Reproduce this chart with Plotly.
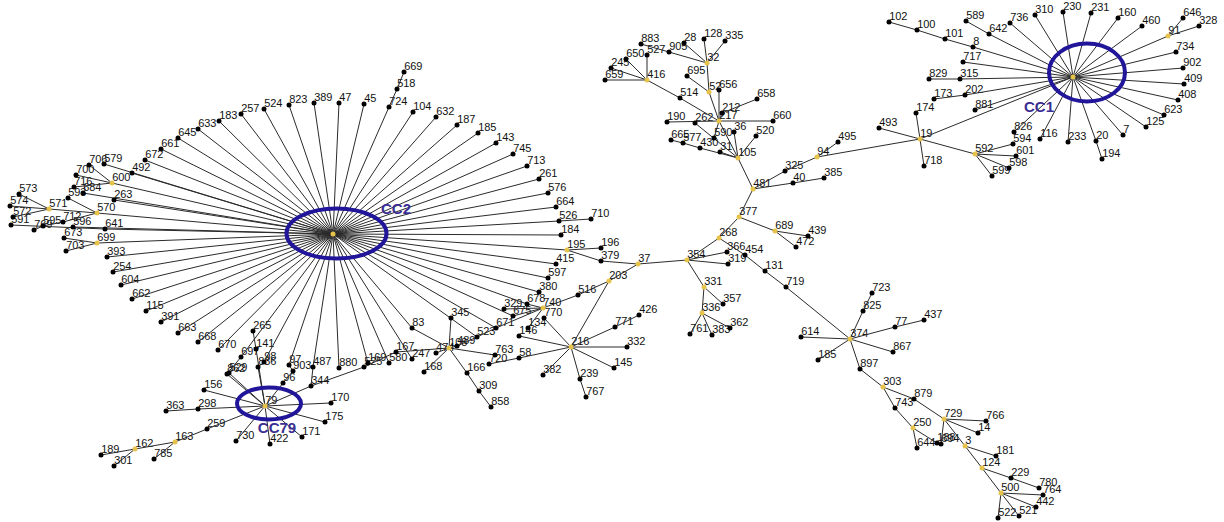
import plotly.graph_objects as go

# ---------------- node table (id, x, y in picture units) ----------------
node_ids = [
    # CC2 hub + left cluster
    "2", "706", "579", "700", "600", "716", "593", "684", "263", "573", "574", "571", "570", "572",
    "591", "769", "595", "712", "596", "641", "673", "699", "703", "393",
    "254", "604", "662", "115", "391", "663", "668", "670",
    "492", "672", "661", "645", "633", "183", "257", "524", "823", "389", "47", "45", "724", "518",
    "669", "104", "632", "187", "185", "143", "745", "713", "261", "576", "664", "526", "710", "184",
    "195", "196", "379", "415", "597", "380",
    # middle lower
    "740", "678", "329", "675", "671", "770", "134", "146", "516", "203", "37", "216", "426", "771",
    "332", "145", "239", "767", "382", "58", "720", "763", "166", "309", "858", "345", "83", "523",
    "108", "474", "489", "167", "247", "580", "168", "525", "169",
    # central tree
    "354", "366", "319", "268", "454", "131", "719", "377", "689", "439", "472", "481", "331", "357",
    "336", "362", "383", "761",
    # top middle
    "105", "325", "94", "495", "40", "385", "217", "52", "32", "695", "28", "128", "335", "905",
    "883", "527", "650", "245", "659", "416", "514", "656", "212", "658", "190", "660", "262", "590",
    "36", "520", "665", "577", "430", "31",
    # CC1
    "1", "102", "100", "101", "8", "589", "642", "736", "310", "230", "231", "160", "460", "646",
    "328", "91", "734", "902", "409", "408", "623", "125", "7", "194", "20", "233", "116", "826",
    "594", "601", "598", "599", "592", "19", "174", "718", "493", "717", "829", "315", "173", "202",
    "881",
    # CC79
    "79", "265", "141", "697", "98", "836", "97", "903", "96", "487", "880", "344", "862", "529",
    "156", "298", "363", "170", "175", "171", "422", "730", "259", "163", "785", "162", "189", "301",
    # lower right
    "374", "723", "825", "77", "437", "614", "185b", "867", "897", "303", "879", "743", "250", "644",
    "729", "766", "14", "188", "694", "3", "181", "124", "229", "780", "500", "764", "442", "521",
    "522",
]
node_x = [
    333, 89, 104, 76, 112, 74, 68, 83, 114, 19, 10, 49, 97, 13,
    11, 34, 43, 63, 73, 105, 64, 97, 66, 107,
    113, 121, 132, 146, 161, 178, 198, 218,
    132, 145, 161, 178, 198, 219, 241, 264, 289, 314, 339, 364, 389, 397,
    404, 413, 436, 457, 478, 496, 513, 527, 539, 548, 556, 559, 591, 561,
    567, 601, 601, 556, 548, 539,
    543, 527, 504, 513, 496, 544, 528, 519, 578, 609, 638, 571, 639, 615,
    627, 614, 580, 586, 543, 519, 489, 495, 467, 479, 491, 451, 412, 477,
    449, 436, 457, 396, 412, 389, 424, 364, 368,
    687, 727, 728, 719, 745, 765, 786, 739, 775, 808, 796, 753, 704, 723,
    702, 730, 712, 690,
    738, 785, 817, 838, 793, 824, 719, 709, 707, 687, 684, 704, 725, 669,
    641, 647, 626, 611, 605, 647, 680, 719, 722, 757, 667, 773, 695, 714,
    734, 756, 671, 683, 700, 720,
    1073, 889, 917, 945, 973, 966, 989, 1010, 1035, 1063, 1091, 1118, 1142, 1183,
    1199, 1168, 1176, 1183, 1184, 1178, 1164, 1146, 1123, 1102, 1096, 1068, 1040, 1014,
    1013, 1016, 1009, 992, 975, 920, 916, 924, 879, 963, 929, 960, 934, 965,
    975,
    265, 253, 256, 241, 264, 258, 289, 293, 283, 313, 339, 311, 227, 229,
    204, 198, 166, 331, 325, 302, 270, 236, 207, 175, 154, 135, 101, 114,
    850, 872, 863, 895, 924, 801, 818, 893, 860, 883, 914, 895, 913, 917,
    944, 986, 978, 937, 941, 965, 996, 982, 1011, 1039, 1001, 1043, 1036, 1019,
    998,
]
node_y = [
    234, 165, 164, 175, 183, 187, 198, 193, 200, 194, 206, 209, 213, 217,
    225, 230, 226, 222, 227, 229, 238, 243, 251, 257,
    272, 285, 299, 311, 322, 333, 342, 350,
    173, 160, 149, 138, 129, 121, 114, 109, 105, 103, 103, 104, 107, 89,
    72, 112, 117, 125, 133, 143, 154, 166, 179, 193, 207, 221, 219, 235,
    250, 248, 261, 264, 278, 292,
    308, 304, 309, 316, 328, 318, 328, 336, 295, 281, 264, 347, 315, 327,
    347, 368, 379, 397, 375, 358, 364, 355, 373, 391, 407, 318, 328, 337,
    348, 353, 346, 352, 359, 363, 372, 367, 363,
    260, 252, 264, 238, 255, 271, 287, 217, 231, 236, 247, 189, 287, 304,
    313, 328, 335, 334,
    158, 171, 157, 142, 183, 178, 121, 92, 63, 76, 43, 39, 41, 52,
    44, 55, 59, 68, 80, 80, 98, 90, 113, 99, 122, 121, 123, 138,
    132, 136, 140, 143, 148, 152,
    77, 22, 30, 39, 47, 21, 34, 23, 15, 12, 13, 18, 26, 18,
    26, 36, 52, 68, 84, 100, 115, 127, 135, 159, 141, 142, 139, 132,
    144, 156, 168, 176, 154, 139, 113, 166, 128, 62, 79, 79, 99, 95,
    110,
    406, 331, 349, 357, 362, 367, 365, 371, 383, 367, 368, 386, 374, 373,
    390, 409, 411, 403, 422, 437, 444, 441, 429, 442, 459, 449, 455, 466,
    339, 293, 311, 327, 320, 337, 360, 352, 369, 387, 399, 408, 428, 448,
    419, 421, 433, 443, 444, 446, 456, 468, 478, 488, 493, 495, 507, 516,
    518,
]
# labels shown next to each node (hub nodes of CC2 / CC1 carry none)
node_labels = [("" if n in ("2", "1") else n.replace("b", "")) for n in node_ids]

# nodes drawn yellow (group / sub-group founders)
founders = ["2", "1", "79", "600", "571", "570", "699", "195", "37", "203", "740", "108", "216",
            "354", "268", "377", "481", "689", "331", "336", "374", "303", "250", "729", "3",
            "124", "500", "105", "217", "52", "32", "416", "94", "19", "592", "91", "163", "162"]

# ---------------- edges ----------------
cc2_spokes = ["579", "600", "492", "672", "661", "645", "633", "183", "257", "524", "823", "389",
              "47", "45", "724", "104", "632", "187", "185", "143", "745", "713", "261", "576",
              "664", "526", "184", "195", "415", "597", "380", "678", "675", "671", "523", "83",
              "247", "580", "169", "880", "487", "97", "98", "697", "670", "668", "663", "391",
              "115", "662", "604", "254", "393", "699", "641", "596", "570", "263", "684"]
cc1_spokes = ["8", "642", "736", "310", "230", "231", "160", "460", "91", "734", "902", "409",
              "408", "623", "125", "7", "20", "233", "116", "826", "19", "717", "315", "202", "881"]
cc79_spokes = ["141", "862", "529", "836", "96", "156", "298", "259", "730", "422", "171", "175",
               "170", "344"]
other_edges = [
    ("724", "518"), ("518", "669"),
    ("600", "706"), ("600", "700"), ("600", "716"), ("571", "573"), ("571", "574"), ("571", "572"),
    ("571", "570"), ("570", "593"), ("570", "712"), ("712", "595"), ("595", "769"), ("591", "641"),
    ("699", "673"), ("699", "703"),
    ("740", "678"), ("740", "329"), ("740", "675"), ("740", "134"), ("740", "516"), ("740", "671"),
    ("516", "203"), ("203", "37"), ("203", "216"), ("37", "379"), ("379", "195"), ("195", "196"),
    ("526", "710"), ("37", "354"),
    ("216", "770"), ("216", "146"), ("216", "771"), ("771", "426"), ("216", "332"), ("216", "145"),
    ("216", "239"), ("239", "767"), ("216", "382"), ("216", "58"), ("58", "720"),
    ("108", "489"), ("489", "523"), ("523", "671"), ("108", "345"), ("108", "83"), ("108", "474"),
    ("108", "168"), ("108", "166"), ("166", "309"), ("309", "858"), ("108", "763"), ("108", "167"),
    ("167", "525"), ("525", "344"), ("344", "487"),
    ("354", "366"), ("354", "319"), ("354", "268"), ("354", "331"), ("331", "357"), ("331", "336"),
    ("336", "362"), ("336", "383"), ("336", "761"),
    ("268", "377"), ("268", "454"), ("454", "131"), ("131", "719"), ("719", "374"), ("377", "481"),
    ("377", "689"), ("689", "439"), ("689", "472"),
    ("481", "105"), ("481", "325"), ("325", "94"), ("481", "40"), ("40", "385"), ("94", "495"),
    ("94", "19"),
    ("105", "217"), ("105", "31"), ("105", "36"), ("105", "520"), ("105", "262"), ("105", "430"),
    ("430", "577"), ("577", "665"),
    ("217", "190"), ("217", "660"), ("217", "212"), ("212", "658"), ("217", "656"), ("217", "52"),
    ("217", "514"), ("514", "416"), ("217", "590"),
    ("52", "32"), ("52", "695"), ("32", "905"), ("905", "883"), ("32", "28"), ("32", "128"),
    ("32", "335"), ("416", "527"), ("416", "650"), ("416", "245"), ("416", "659"),
    ("8", "101"), ("101", "100"), ("100", "102"), ("642", "589"), ("91", "646"), ("91", "328"),
    ("20", "194"), ("592", "594"), ("592", "601"), ("592", "598"), ("592", "599"), ("592", "19"),
    ("19", "174"), ("19", "718"), ("19", "493"), ("315", "829"), ("202", "173"),
    ("141", "265"), ("862", "697"), ("836", "98"), ("96", "903"), ("903", "97"), ("298", "363"),
    ("259", "163"), ("163", "785"), ("163", "162"), ("162", "189"), ("162", "301"),
    ("374", "825"), ("825", "723"), ("374", "77"), ("77", "437"), ("374", "867"), ("374", "614"),
    ("374", "185b"), ("374", "897"), ("897", "303"), ("303", "879"), ("879", "729"),
    ("303", "743"), ("743", "250"), ("250", "644"), ("250", "188"), ("729", "694"),
    ("729", "766"), ("729", "14"), ("729", "3"), ("3", "181"), ("3", "124"), ("124", "229"),
    ("229", "780"), ("124", "500"), ("500", "764"), ("500", "442"), ("500", "521"), ("500", "522"),
]
edges = ([("2", s) for s in cc2_spokes] + [("1", s) for s in cc1_spokes]
         + [("79", s) for s in cc79_spokes] + other_edges)

# ---------------- clonal complex outlines ----------------
cc_names = ["CC2", "CC1", "CC79"]
cc_cx = [336.5, 1087, 269]
cc_cy = [233.5, 72.5, 403.5]
cc_rx = [50, 38, 32]
cc_ry = [25, 29, 16]
cc_label_x = [396, 1039, 277]
cc_label_y = [210, 108, 429]

# ---------------- build figure ----------------
W, H = 1224, 522
LBL_DX, LBL_DY = 4, 5          # pixel nudge of the node labels (left / down)

pos = {n: (x, y) for n, x, y in zip(node_ids, node_x, node_y)}
ex, ey = [], []
for a, b in edges:
    ex += [pos[a][0], pos[b][0], None]
    ey += [pos[a][1], pos[b][1], None]

fig = go.Figure()

# node labels live on the main axes (which are nudged by LBL_DX / LBL_DY)
fig.add_trace(go.Scatter(
    x=node_x, y=node_y, text=node_labels, mode="markers+text", textposition="top right",
    textfont=dict(family="Liberation Sans, Arial, sans-serif", size=11, color="#111111"),
    marker=dict(size=5, opacity=0), hoverinfo="skip", showlegend=False))

# graph drawn on the true-position overlay axes
fig.add_trace(go.Scatter(x=ex, y=ey, mode="lines", line=dict(color="#2b2b2b", width=1),
                         hoverinfo="skip", showlegend=False, xaxis="x2", yaxis="y2"))

for i in range(len(cc_names)):
    fig.add_shape(type="circle", xref="x2", yref="y2",
                  x0=cc_cx[i] - cc_rx[i], x1=cc_cx[i] + cc_rx[i],
                  y0=cc_cy[i] - cc_ry[i], y1=cc_cy[i] + cc_ry[i],
                  line=dict(color="#21169a", width=4), layer="above")

blk = [i for i, n in enumerate(node_ids) if n not in founders]
yel = [i for i, n in enumerate(node_ids) if n in founders]
for idx, col in ((blk, "#000000"), (yel, "#e6c34a")):
    fig.add_trace(go.Scatter(
        x=[node_x[i] for i in idx], y=[node_y[i] for i in idx],
        text=[node_labels[i] for i in idx], mode="markers",
        marker=dict(color=col, size=5, line=dict(width=0)),
        hoverinfo="text", showlegend=False, xaxis="x2", yaxis="y2"))

fig.add_trace(go.Scatter(
    x=cc_label_x, y=cc_label_y, text=[f"<b>{t}</b>" for t in cc_names], mode="text",
    textfont=dict(family="Liberation Sans, Arial, sans-serif", size=15, color="#3a2e92"),
    hoverinfo="skip", showlegend=False, xaxis="x2", yaxis="y2"))

fig.update_layout(
    width=W, height=H, margin=dict(l=0, r=0, t=0, b=0),
    paper_bgcolor="white", plot_bgcolor="white",
    xaxis=dict(range=[LBL_DX, W + LBL_DX], visible=False, fixedrange=True),
    yaxis=dict(range=[H - LBL_DY, -LBL_DY], visible=False, fixedrange=True),
    xaxis2=dict(range=[0, W], visible=False, fixedrange=True, overlaying="x"),
    yaxis2=dict(range=[H, 0], visible=False, fixedrange=True, overlaying="y"),
)
fig.write_html("out.html")
